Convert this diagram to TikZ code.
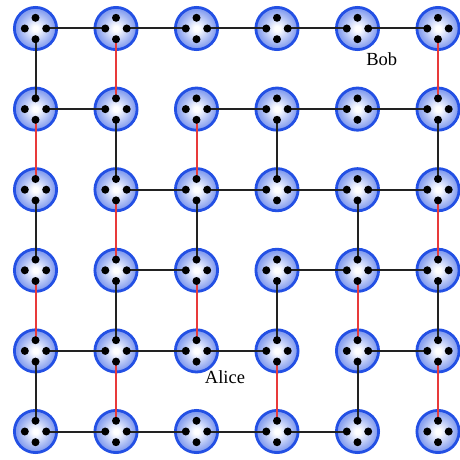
\documentclass[tikz,border=0pt]{standalone}
\usepackage{fontspec}
\setmainfont{Liberation Serif}
\usetikzlibrary{calc}
\definecolor{rimblue}{HTML}{2350E4}
\definecolor{midblue}{HTML}{8AA2F0}
\definecolor{edgeblue}{HTML}{3D5FE8}
\definecolor{qred}{HTML}{E83A3A}
\definecolor{qgray}{HTML}{222222}
\pgfdeclareradialshading{qball}{\pgfpoint{0bp}{0bp}}{color(0bp)=(white); color(3bp)=(white); color(22bp)=(midblue); color(50bp)=(edgeblue)}
\tikzset{
 qnode/.style={circle, draw=rimblue, line width=2.8pt, minimum size=42.2pt, inner sep=0pt, shading=qball},
 qdot/.style={circle, fill=black, minimum size=8pt, inner sep=0pt},
 bond/.style={draw=qgray, line width=2pt},
 ent/.style={draw=qred, line width=2pt},
 lbl/.style={font=\fontsize{18.5}{22}\selectfont, inner sep=0pt, anchor=base}
}
\begin{document}
\begin{tikzpicture}[x=1pt,y=-1pt]
\useasboundingbox (0,0) rectangle (459,460);
% nodes
\foreach \c in {0,...,5} {
  \foreach \r in {0,...,5} {
    \node[qnode] (n-\c-\r) at ({35.5+80.5*\c},{28.5+80.6*\r}) {};
    \coordinate (n-\c-\r-t) at ($(n-\c-\r)+(0,-10.7)$);
    \coordinate (n-\c-\r-b) at ($(n-\c-\r)+(0,10.7)$);
    \coordinate (n-\c-\r-l) at ($(n-\c-\r)+(-10.7,0)$);
    \coordinate (n-\c-\r-r) at ($(n-\c-\r)+(10.7,0)$);
  }
}
% horizontal bonds
\foreach \c/\r in {0/0,1/0,2/0,3/0,4/0,
                   0/1,2/1,3/1,4/1,
                   1/2,2/2,3/2,4/2,
                   1/3,3/3,4/3,
                   0/4,1/4,2/4,4/4,
                   0/5,1/5,2/5,3/5} {
  \pgfmathtruncatemacro\cc{\c+1}
  \draw[bond] (n-\c-\r-r) -- (n-\cc-\r-l);
}
% vertical bonds
\foreach \c/\r/\s in {0/0/bond,0/1/ent,0/2/bond,0/3/ent,0/4/bond,
                      1/0/ent,1/1/bond,1/2/ent,1/3/bond,1/4/ent,
                      2/1/ent,2/2/bond,2/3/ent,
                      3/1/bond,3/3/bond,3/4/ent,
                      4/2/bond,4/3/ent,4/4/bond,
                      5/0/ent,5/1/bond,5/2/ent,5/3/bond,5/4/ent} {
  \pgfmathtruncatemacro\rr{\r+1}
  \draw[\s] (n-\c-\r-b) -- (n-\c-\rr-t);
}
% dots
\foreach \c in {0,...,5} {
  \foreach \r in {0,...,5} {
    \foreach \p in {t,b,l,r} {
      \node[qdot] (d-\c-\r-\p) at (n-\c-\r-\p) {};
    }
  }
}
% labels
\node[lbl] (bob) at (381.7,65.3) {Bob};
\node[lbl] (alice) at (225,383.3) {Alice};
\end{tikzpicture}
\end{document}
